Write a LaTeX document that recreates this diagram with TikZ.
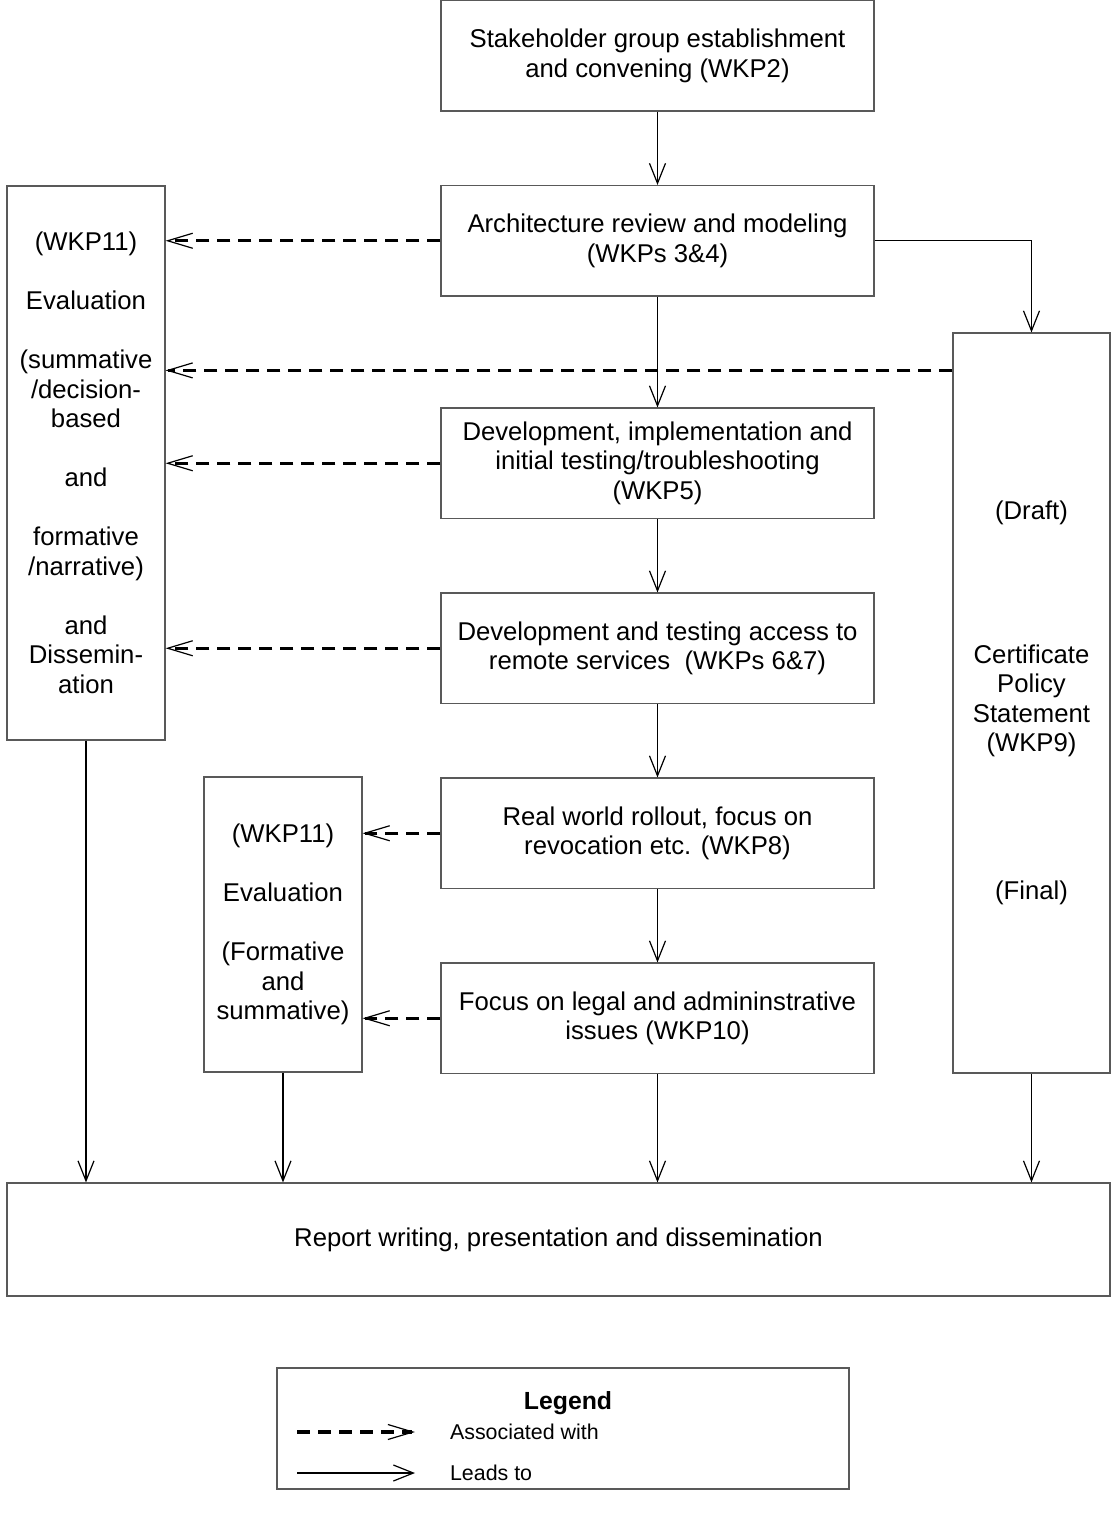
\documentclass[tikz,border=0pt]{standalone}
\usepackage{fontspec}
\setmainfont{Liberation Sans}
\usetikzlibrary{arrows.meta,positioning}

\newcommand{\blankln}{\\[14.75pt]}

\begin{document}
\begin{tikzpicture}[x=0.5pt, y=-0.5pt, node distance=36.65pt,
    every node/.style={font=\fontsize{12.85}{14.75}\selectfont},
    box/.style={draw=black!65, line width=0.6pt, align=center, inner sep=2pt},
    wkp/.style={box, minimum width=216.5pt, minimum height=55.25pt},
    lead/.style={draw, line width=0.6pt, -{Straight Barb[length=10pt, width=8pt]}},
    assoc/.style={draw, line width=1.6pt, dash pattern=on 6.5pt off 4pt,
                  -{Straight Barb[length=12.5pt, width=7.5pt, line width=0.6pt]}},
    small/.style={font=\fontsize{10.7}{12.5}\selectfont}]
\useasboundingbox (0,0) rectangle (1111,1517);

\node[wkp] (wkp2) at (657.5,55.75) {Stakeholder group establishment\\and convening (WKP2)};
\node[wkp, below=of wkp2]  (wkp34) {Architecture review and modeling\\(WKPs 3\&4)};
\node[wkp, below=55.4pt of wkp34] (wkp5)  {Development, implementation and\\initial testing/troubleshooting\\(WKP5)};
\node[wkp, below=of wkp5]  (wkp67) {Development and testing access to\\remote services~ (WKPs 6\&7)};
\node[wkp, below=of wkp67] (wkp8)  {Real world rollout, focus on\\revocation etc. (WKP8)};
\node[wkp, below=of wkp8]  (wkp10) {Focus on legal and admininstrative\\issues (WKP10)};

\node[box, minimum width=79pt, minimum height=277pt] (evalA) at (86,463)
  {(WKP11)\blankln Evaluation\blankln (summative\\/decision-\\based\blankln and\blankln
   formative\\/narrative)\blankln and\\Dissemin-\\ation};
\node[box, minimum width=79pt, minimum height=147.5pt] (evalB) at (283,924.5)
  {(WKP11)\blankln Evaluation\blankln (Formative\\and\\summative)};
\node[box, minimum width=78.5pt, minimum height=370pt] (cert) at (1031.5,703)
  {(Draft)\\[57pt] Certificate\\Policy\\Statement\\(WKP9)\\[59pt] (Final)};

\node[box, minimum width=551.5pt, minimum height=56.5pt] (report) at (558.5,1239.5)
  {Report writing, presentation and dissemination};

\node[box, minimum width=286pt, minimum height=60.5pt] (legend) at (563,1428.5) {};
\node[font=\fontsize{12.4}{14}\selectfont\bfseries] (legtitle) at (568,1403) {Legend};
\coordinate (assocA) at (297,1432);
\coordinate (assocB) at (415,1432);
\node[small, anchor=west] (assoctxt) at (443,1432) {Associated with};
\coordinate (leadA) at (297,1473);
\coordinate (leadB) at (415,1473);
\node[small, anchor=west] (leadtxt) at (443,1473) {Leads to};

\draw[lead] (wkp2) -- (wkp34);
\draw[lead] (wkp34) -- (wkp5);
\draw[lead] (wkp5) -- (wkp67);
\draw[lead] (wkp67) -- (wkp8);
\draw[lead] (wkp8) -- (wkp10);
\draw[lead] (wkp34.east) -| (cert.north);

\foreach \src in {wkp34,wkp5,wkp67}
  \draw[assoc] (\src.west) -- (evalA.east |- \src.west);
\foreach \src in {wkp8,wkp10}
  \draw[assoc] (\src.west) -- (evalB.east |- \src.west);
\coordinate (certtap) at ([yshift=-19pt]cert.north west);
\draw[assoc] (certtap) -- (evalA.east |- certtap);

\foreach \src in {evalA,evalB,wkp10,cert}
  \draw[lead] (\src.south) -- (\src.south |- report.north);

\draw[assoc] (assocA) -- (assocB);
\draw[lead] (leadA) -- (leadB);
\end{tikzpicture}
\end{document}
